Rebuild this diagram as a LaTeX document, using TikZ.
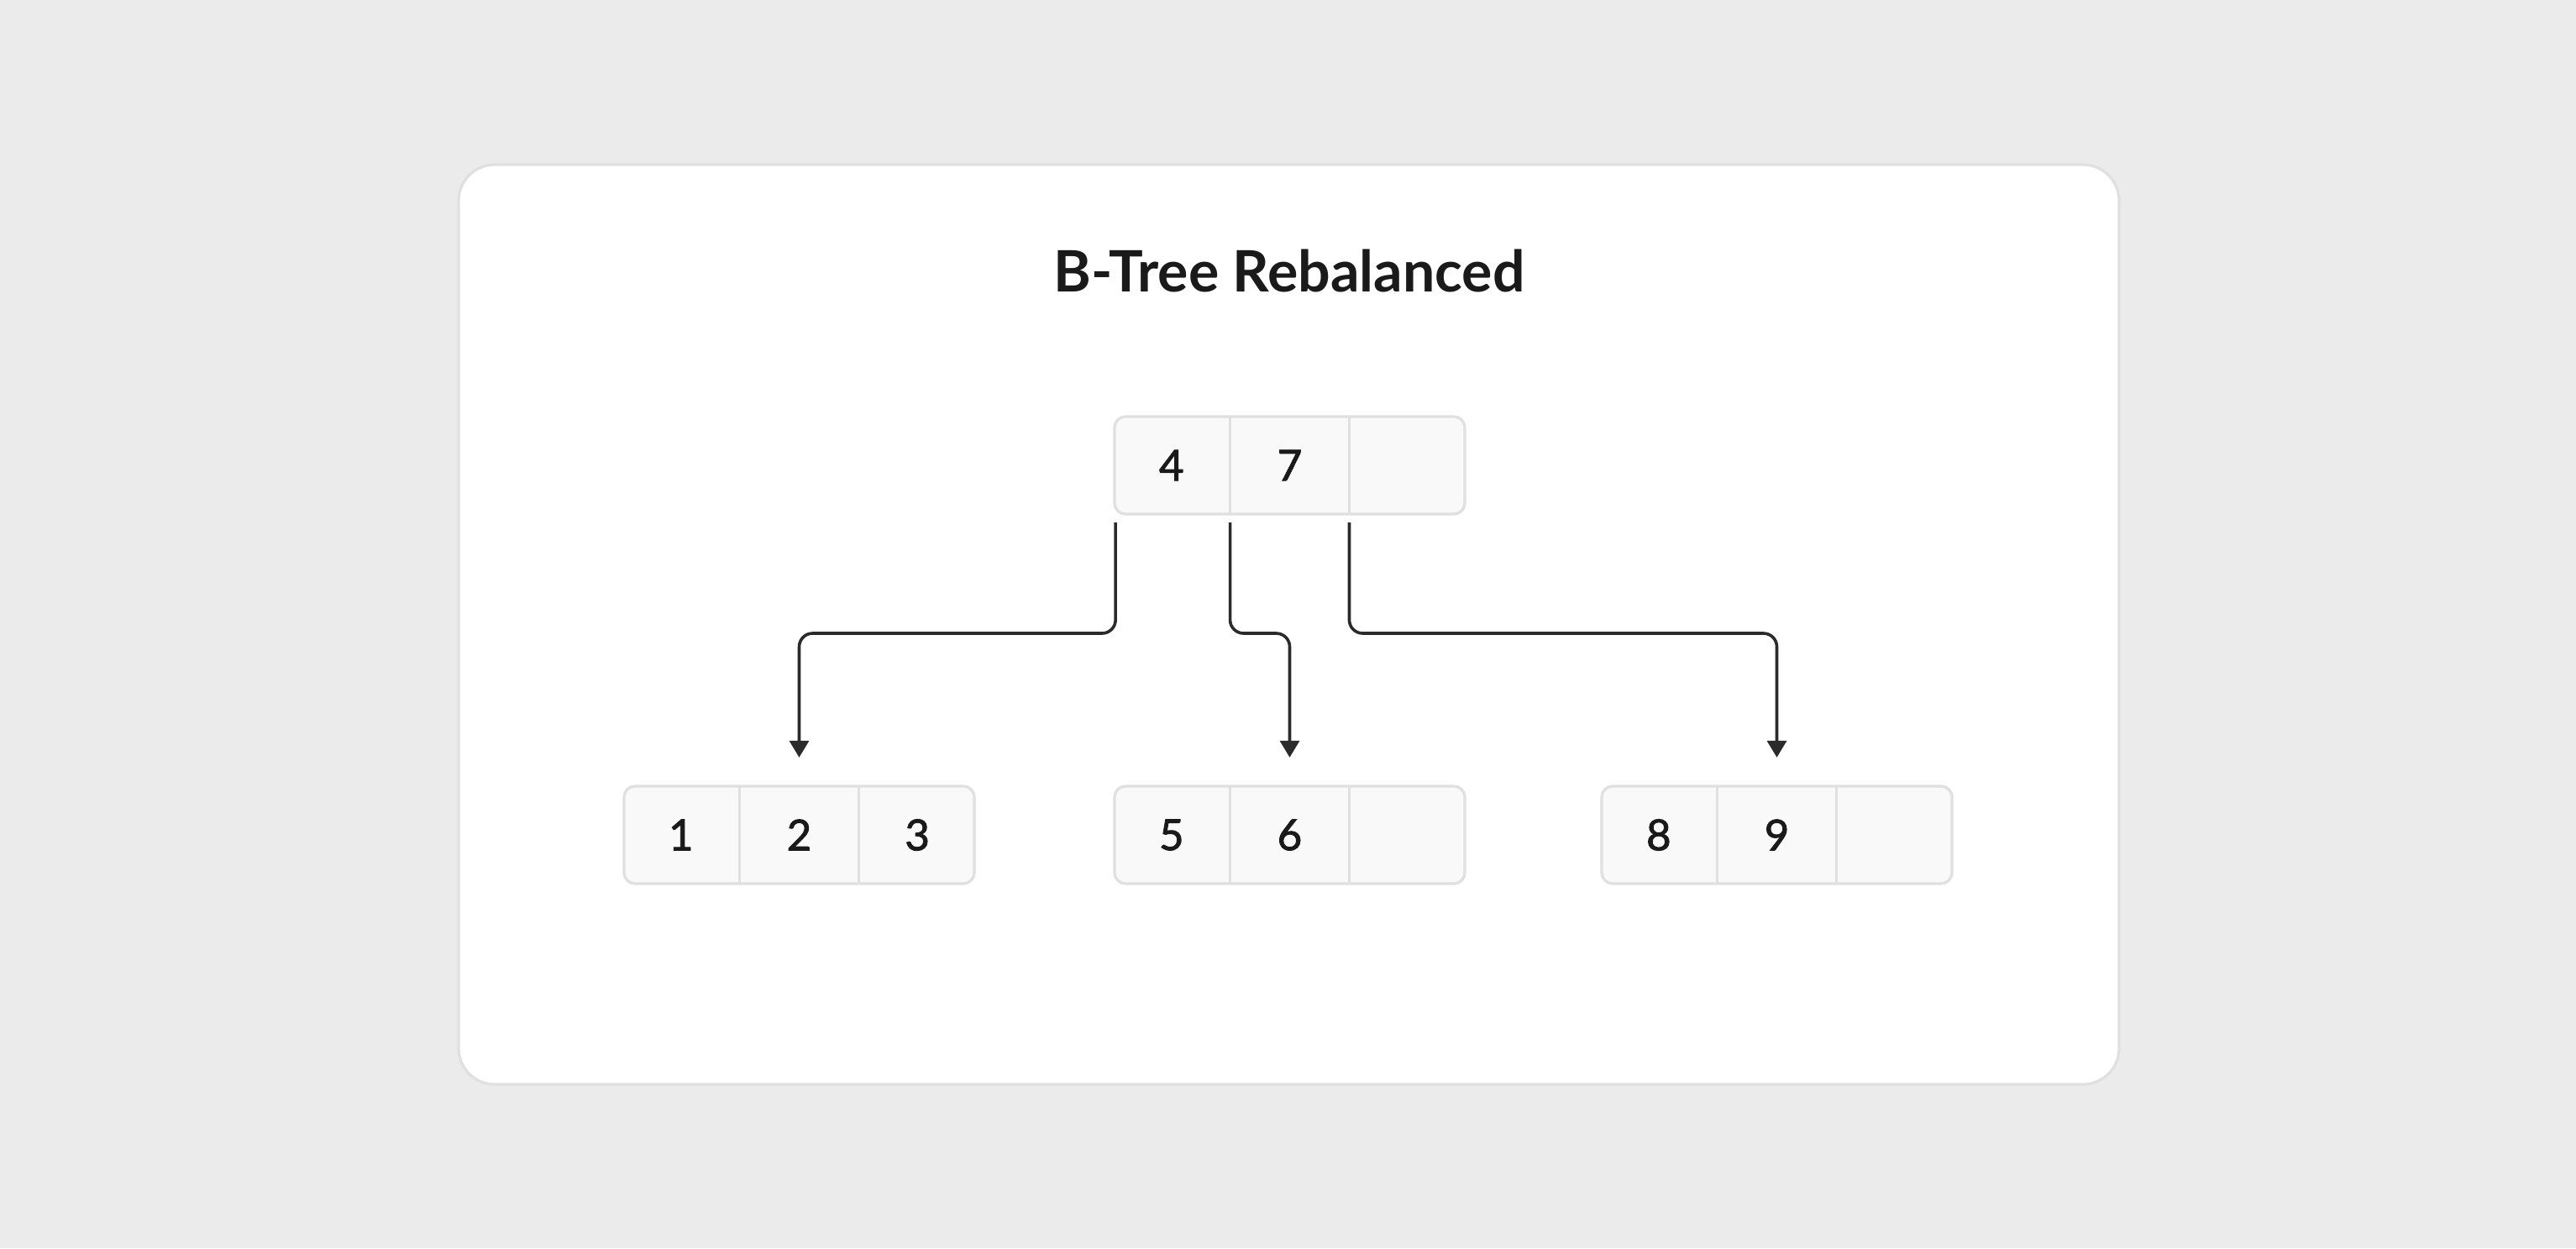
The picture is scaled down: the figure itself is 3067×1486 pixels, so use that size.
\documentclass[tikz,border=0pt]{standalone}
\usepackage{fontspec}
\usetikzlibrary{arrows.meta}
\setmainfont{Lato}
\newfontfamily\digitfont[FakeBold=1.8]{Lato}
\definecolor{pagebg}{HTML}{EBEBEB}
\definecolor{cardline}{HTML}{E0E0E0}
\definecolor{cellfill}{HTML}{F9F9F9}
\definecolor{ink}{HTML}{1A1A1A}
\definecolor{wire}{HTML}{2B2B2B}
\begin{document}
\begin{tikzpicture}[x=1pt,y=-1pt,
  card/.style={draw=cardline,line width=3.3pt,fill=white,rounded corners=43pt},
  keybox/.style={draw=cardline,line width=3.3pt,fill=cellfill,rounded corners=13pt,
    minimum width=417pt,minimum height=116pt,inner sep=0pt},
  cell/.style={minimum width=139pt,minimum height=116pt,inner sep=0pt,
    text=ink,font=\digitfont\fontsize{51}{60}\selectfont},
  divider/.style={draw=cardline,line width=3.3pt},
  conn/.style={draw=wire,line width=3.6pt,rounded corners=16pt,
    -{Triangle[width=23pt,length=20pt]}},
  title/.style={text=ink,font=\fontsize{68}{80}\selectfont\bfseries}]
\useasboundingbox (0,0) rectangle (3067,1486);
\fill[pagebg] (0,0) rectangle (3067,1486);
\draw[card] (546,196) rectangle (2523,1291);
\node[title] (ttl) at (1535,323) {B-Tree Rebalanced};
% boxes
\node[keybox] (root) at (1535.5,554) {};
\node[keybox] (la) at (951.5,994) {};
\node[keybox] (lb) at (1535.5,994) {};
\node[keybox] (lc) at (2115.5,994) {};
% cells
\foreach \b/\p/\x/\y/\z in {root/r/4/7/{},la/a/1/2/3,lb/b/5/6/{},lc/c/8/9/{}}{
  \node[cell] (\p1) at ([xshift=69.5pt]\b.west) {\x};
  \node[cell] (\p2) at (\b.center) {\y};
  \node[cell] (\p3) at ([xshift=-69.5pt]\b.east) {\z};
  \draw[divider] (\p1.north east) -- (\p1.south east);
  \draw[divider] (\p3.north west) -- (\p3.south west);
}
% connectors
\coordinate (hy) at (0,754);
\coordinate (s1) at ([yshift=-10pt,xshift=3pt]r1.south west);
\coordinate (s2) at ([yshift=-10pt]r1.south east);
\coordinate (s3) at ([yshift=-10pt]r3.south west);
\coordinate (e1) at ([yshift=34pt]a2.north);
\coordinate (e2) at ([yshift=34pt]b2.north);
\coordinate (e3) at ([yshift=34pt]c2.north);
\draw[conn] (s1) -- (s1 |- hy) -| (e1);
\draw[conn] (s2) -- (s2 |- hy) -| (e2);
\draw[conn] (s3) -- (s3 |- hy) -| (e3);
\end{tikzpicture}
\end{document}
